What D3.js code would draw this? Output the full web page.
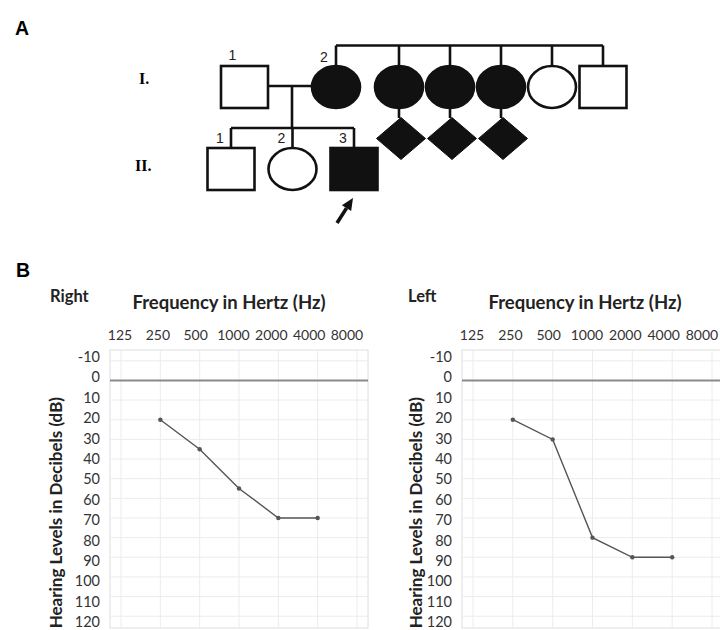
<!DOCTYPE html>
<html>
<head>
<meta charset="utf-8">
<script src="https://cdn.jsdelivr.net/npm/d3@7"></script>
<style>
  body { margin: 0; background: #fff; }
  svg { display: block; }
</style>
</head>
<body>
<div id="chart"></div>
<script>
// pedigree members
const coupleIds = ["I-1", "I-2"];
const coupleSex = ["M", "F"];
const coupleAffected = [false, true];
const coupleLabels = ["1", "2"];

const sibIds = ["I-3", "I-4", "I-5", "I-6", "I-7"];
const sibSex = ["F", "F", "F", "F", "M"];
const sibAffected = [true, true, true, false, false];
const sibHasAffectedChild = [true, true, true, false, false];

const childIds = ["II-1", "II-2", "II-3"];
const childSex = ["M", "F", "M"];
const childAffected = [false, false, true];
const childLabels = ["1", "2", "3"];
const proband = "II-3";

// audiograms
const freqLabels = ["125", "250", "500", "1000", "2000", "4000", "8000"];
const dbTicks = [-10, 0, 10, 20, 30, 40, 50, 60, 70, 80, 90, 100, 110, 120];
const testedFreqs = ["250", "500", "1000", "2000", "4000"];
const rightDb = [20, 35, 55, 70, 70];
const leftDb = [20, 30, 80, 90, 90];

var width = 720, height = 630;
var svg = d3.select("#chart").append("svg").attr("width", width).attr("height", height);

var ink = "#111";
var sw = 2.6;

// ---------- panel A : pedigree ----------
svg.append("text").attr("x", 15).attr("y", 35).text("A")
  .style("font-family", "Liberation Sans").style("font-weight", "bold").style("font-size", "19.5px");

var genY = d3.scalePoint().domain(["I", "II"]).range([87, 169]);
var coupleX = d3.scalePoint().domain(coupleIds).range([244.5, 336]);
var sibX = d3.scalePoint().domain(sibIds).range([399, 603]);
var childX = d3.scalePoint().domain(childIds).range([231, 354]);
var hw = 23.5, hh = 21;

svg.append("text").attr("x", 139).attr("y", 84).text("I.")
  .style("font-family", "Liberation Serif").style("font-weight", "bold").style("font-size", "16px");
svg.append("text").attr("x", 135).attr("y", 171).text("II.")
  .style("font-family", "Liberation Serif").style("font-weight", "bold").style("font-size", "16px");

var ped = svg.append("g").attr("stroke", ink).attr("stroke-width", sw);

function drawSymbol(sex, affected, cx, cy) {
  var fill = affected ? ink : "#fff";
  if (sex == "M") {
    ped.append("rect").attr("x", cx - hw).attr("y", cy - hh).attr("width", hw * 2).attr("height", hh * 2).attr("fill", fill);
  } else if (sex == "F") {
    ped.append("ellipse").attr("cx", cx).attr("cy", cy).attr("rx", hw + 0.5).attr("ry", hh).attr("fill", fill);
  } else {
    var pts = [[cx, cy - hh], [cx + hw + 1, cy], [cx, cy + hh], [cx - hw - 1, cy]];
    ped.append("polygon").attr("points", pts.map(p => p.join(",")).join(" ")).attr("fill", fill).attr("stroke-width", 1);
  }
}

function line(x1, y1, x2, y2) {
  ped.append("line").attr("x1", x1).attr("y1", y1).attr("x2", x2).attr("y2", y2);
}

var yI = genY("I"), yII = genY("II");
var sibLineY = yI - 41.5;

// sibship line of I-2 and her siblings
line(coupleX("I-2"), sibLineY, sibX(sibIds[sibIds.length - 1]), sibLineY);
line(coupleX("I-2"), sibLineY, coupleX("I-2"), yI - hh);
sibIds.forEach(function(id, i) {
  line(sibX(id), sibLineY, sibX(id), yI - hh);
  if (sibHasAffectedChild[i]) {
    line(sibX(id), yI + hh, sibX(id), yI + hh + 10);
  }
});

// marriage line and descent
line(coupleX("I-1") + hw, yI - 1, coupleX("I-2") - hw, yI - 1);
var descentX = 292;
var childLineY = yII - 41;
line(descentX, yI - 1, descentX, childLineY);
line(childX(childIds[0]), childLineY, childX(childIds[childIds.length - 1]), childLineY);
childIds.forEach(function(id) {
  line(childX(id), childLineY, childX(id), yII - hh);
});

coupleIds.forEach(function(id, i) { drawSymbol(coupleSex[i], coupleAffected[i], coupleX(id), yI); });
sibIds.forEach(function(id, i) {
  drawSymbol(sibSex[i], sibAffected[i], sibX(id), yI);
  if (sibHasAffectedChild[i]) drawSymbol("U", true, sibX(id) + 2, yI + hh + 10 + 20.5);
});
childIds.forEach(function(id, i) { drawSymbol(childSex[i], childAffected[i], childX(id), yII); });

var numFont = function(t) {
  t.style("font-family", "Liberation Sans").style("font-size", "14px").attr("fill", "#222").attr("text-anchor", "middle");
};
coupleIds.forEach(function(id, i) {
  svg.append("text").attr("x", coupleX(id) - 12).attr("y", i == 0 ? 60 : 62).text(coupleLabels[i]).call(numFont);
});
childIds.forEach(function(id, i) {
  svg.append("text").attr("x", childX(id) - 11).attr("y", childLineY + 14.5).text(childLabels[i]).call(numFont);
});

// proband arrow
var px = childX(proband);
var tip = [px - 1, yII + hh + 8], tail = [px - 17, yII + hh + 33];
var ang = Math.atan2(tip[1] - tail[1], tip[0] - tail[0]);
var headLen = 12, headW = 5.5;
var base = [tip[0] - headLen * Math.cos(ang), tip[1] - headLen * Math.sin(ang)];
svg.append("line").attr("x1", tail[0]).attr("y1", tail[1]).attr("x2", base[0]).attr("y2", base[1])
  .attr("stroke", ink).attr("stroke-width", 3.6);
svg.append("polygon").attr("fill", ink).attr("points", [
  tip,
  [base[0] + headW * Math.sin(ang), base[1] - headW * Math.cos(ang)],
  [base[0] - headW * Math.sin(ang), base[1] + headW * Math.cos(ang)]
].map(p => p.join(",")).join(" "));

// ---------- panel B : audiograms ----------
svg.append("text").attr("x", 16).attr("y", 277).text("B")
  .style("font-family", "Liberation Sans").style("font-weight", "bold").style("font-size", "19.5px");

function audiogram(opt, values) {
  var g = svg.append("g");
  var x = d3.scalePoint().domain(freqLabels).range([opt.left + 11, opt.right - 11]);
  var xLab = d3.scalePoint().domain(freqLabels).range([opt.left + 10, opt.right - 21]);
  var y = d3.scaleLinear().domain([-15.5, 126]).range([350, 628]);
  var yLab = d3.scaleLinear().domain([-10, 120]).range([357, 622]);

  // plot box and gridlines
  g.append("rect").attr("x", opt.left).attr("y", 350).attr("width", opt.right - opt.left).attr("height", 278)
    .attr("fill", "#fff").attr("stroke", "#dedede").attr("stroke-width", 1);
  g.selectAll(".vg").data(freqLabels).enter().append("line")
    .attr("x1", d => x(d)).attr("x2", d => x(d)).attr("y1", 350).attr("y2", 628)
    .attr("stroke", "#ececec").attr("stroke-width", 1);
  g.selectAll(".hg").data(dbTicks.filter(d => d != 0)).enter().append("line")
    .attr("x1", opt.left).attr("x2", opt.right).attr("y1", d => y(d)).attr("y2", d => y(d))
    .attr("stroke", "#ececec").attr("stroke-width", 1);
  g.append("line").attr("x1", opt.left).attr("x2", opt.right).attr("y1", y(0)).attr("y2", y(0))
    .attr("stroke", "#8a8a8a").attr("stroke-width", 2);

  // tick labels
  g.selectAll(".xl").data(freqLabels).enter().append("text")
    .attr("x", d => xLab(d)).attr("y", 339.5).attr("text-anchor", "middle").text(d => d)
    .style("font-family", "Lato").style("font-size", "14px").attr("fill", "#333");
  g.selectAll(".yl").data(dbTicks).enter().append("text")
    .attr("x", opt.left - 10).attr("y", d => yLab(d)).attr("dy", "0.35em").attr("text-anchor", "end").text(d => d)
    .style("font-family", "Lato").style("font-size", "14.5px").attr("fill", "#333");

  // titles
  g.append("text").attr("x", opt.sideX).attr("y", 302).text(opt.side)
    .style("font-family", "Lato").style("font-weight", "bold").style("font-size", "16.5px").attr("fill", "#222");
  g.append("text").attr("x", opt.titleX).attr("y", 309).attr("text-anchor", "middle").text("Frequency in Hertz (Hz)")
    .style("font-family", "Lato").style("font-weight", "bold").style("font-size", "18.5px").attr("fill", "#222");
  g.append("text").attr("transform", "translate(" + opt.yTitleX + ",397) rotate(-90)").attr("text-anchor", "end")
    .text("Hearing Levels in Decibels (dB)")
    .style("font-family", "Lato").style("font-weight", "bold").style("font-size", "17px").attr("fill", "#222");

  // threshold line
  var pts = testedFreqs.map((f, i) => [x(f), y(values[i])]);
  g.append("path").attr("d", d3.line()(pts)).attr("fill", "none").attr("stroke", "#555").attr("stroke-width", 1.4);
  g.selectAll(".pt").data(pts).enter().append("circle")
    .attr("cx", d => d[0]).attr("cy", d => d[1]).attr("r", 2.2).attr("fill", "#555");
}

audiogram({left: 110, right: 368, side: "Right", sideX: 50, titleX: 229, yTitleX: 62}, rightDb);
audiogram({left: 462, right: 723, side: "Left", sideX: 408, titleX: 585, yTitleX: 422}, leftDb);
</script>
</body>
</html>
